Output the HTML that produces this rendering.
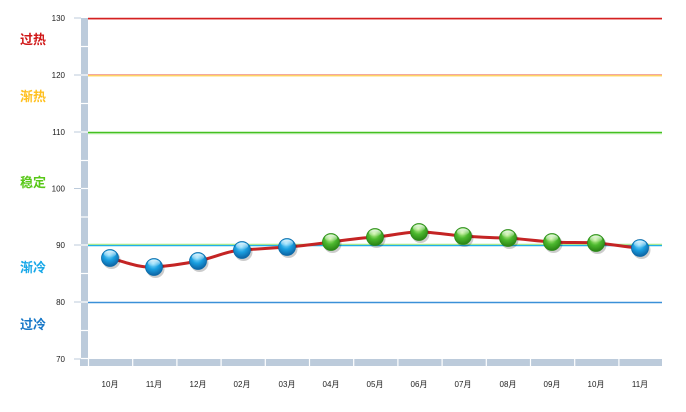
<!DOCTYPE html>
<html><head><meta charset="utf-8"><style>
html,body{margin:0;padding:0;background:#fff;}
svg{display:block;}
text{font-family:"Liberation Sans","Noto Sans CJK SC",sans-serif;}
</style></head><body>
<svg width="686" height="412" viewBox="0 0 686 412" xmlns="http://www.w3.org/2000/svg">
<defs>
<radialGradient id="gb" cx="0.45" cy="0.3" r="0.75">
<stop offset="0" stop-color="#8fe0ff"/><stop offset="0.45" stop-color="#1a9fe0"/><stop offset="1" stop-color="#0a5a9a"/>
</radialGradient>
<radialGradient id="gg" cx="0.45" cy="0.3" r="0.75">
<stop offset="0" stop-color="#c8f59a"/><stop offset="0.45" stop-color="#4cb82e"/><stop offset="1" stop-color="#247a10"/>
</radialGradient>
<linearGradient id="hl" x1="0" y1="0" x2="0" y2="1">
<stop offset="0" stop-color="#fff" stop-opacity="0.85"/><stop offset="1" stop-color="#fff" stop-opacity="0"/>
</linearGradient>
</defs>
<!-- left axis bar -->
<rect x="81" y="18" width="7" height="341" fill="#bccbdb"/>
<g stroke="#fff" stroke-width="1.2">
<line x1="81" y1="46.5" x2="88" y2="46.5"/><line x1="81" y1="103.5" x2="88" y2="103.5"/>
<line x1="81" y1="160.5" x2="88" y2="160.5"/><line x1="81" y1="188.5" x2="88" y2="188.5"/>
<line x1="81" y1="217" x2="88" y2="217"/><line x1="81" y1="273.5" x2="88" y2="273.5"/>
<line x1="81" y1="330.5" x2="88" y2="330.5"/><line x1="81" y1="75" x2="88" y2="75"/>
<line x1="81" y1="132" x2="88" y2="132"/><line x1="81" y1="245" x2="88" y2="245"/><line x1="81" y1="302" x2="88" y2="302"/>
</g>
<!-- bottom bar -->
<rect x="80" y="359" width="582" height="7" fill="#bccbdb"/>
<g stroke="#fff" stroke-width="1.2">
<line x1="88.5" y1="359" x2="88.5" y2="366"/><line x1="132.7" y1="359" x2="132.7" y2="366"/><line x1="176.9" y1="359" x2="176.9" y2="366"/><line x1="221.1" y1="359" x2="221.1" y2="366"/><line x1="265.3" y1="359" x2="265.3" y2="366"/><line x1="309.5" y1="359" x2="309.5" y2="366"/><line x1="353.7" y1="359" x2="353.7" y2="366"/><line x1="397.9" y1="359" x2="397.9" y2="366"/><line x1="442.1" y1="359" x2="442.1" y2="366"/><line x1="486.3" y1="359" x2="486.3" y2="366"/><line x1="530.5" y1="359" x2="530.5" y2="366"/><line x1="574.7" y1="359" x2="574.7" y2="366"/><line x1="618.9" y1="359" x2="618.9" y2="366"/>
<line x1="80" y1="358.5" x2="88" y2="358.5"/>
</g>
<!-- y ticks -->
<g stroke="#bccbdb" stroke-width="1">
<line x1="74" y1="18" x2="81" y2="18"/><line x1="74" y1="75" x2="81" y2="75"/><line x1="74" y1="132" x2="81" y2="132"/><line x1="74" y1="188.5" x2="81" y2="188.5"/><line x1="74" y1="245" x2="81" y2="245"/><line x1="74" y1="302" x2="81" y2="302"/><line x1="74" y1="359" x2="81" y2="359"/>
</g>
<g font-size="8" fill="#222" text-anchor="end">
<text x="65" y="21">130</text><text x="65" y="78">120</text><text x="65" y="135">110</text><text x="65" y="191.5">100</text><text x="65" y="248">90</text><text x="65" y="305">80</text><text x="65" y="362">70</text>
</g>
<!-- threshold lines -->
<line x1="88" y1="18.5" x2="662" y2="18.5" stroke="#d42020" stroke-width="1.5"/>
<line x1="88" y1="19.6" x2="662" y2="19.6" stroke="#f0a0a0" stroke-width="0.8"/>
<line x1="88" y1="74.6" x2="662" y2="74.6" stroke="#f2a8a0" stroke-width="1.2"/>
<line x1="88" y1="75.8" x2="662" y2="75.8" stroke="#ffd040" stroke-width="1.2"/>
<line x1="88" y1="132.5" x2="662" y2="132.5" stroke="#44c020" stroke-width="1.5"/>
<line x1="88" y1="133.8" x2="662" y2="133.8" stroke="#b0eaa0" stroke-width="1"/>
<line x1="88" y1="244.4" x2="662" y2="244.4" stroke="#a8e890" stroke-width="1.2"/>
<line x1="88" y1="245.6" x2="662" y2="245.6" stroke="#20b0e8" stroke-width="1.3"/>
<line x1="88" y1="302.5" x2="662" y2="302.5" stroke="#3a90d8" stroke-width="1.5"/>
<!-- zone labels -->
<g font-size="13" font-weight="bold">
<text x="20" y="44" fill="#d01818">过热</text>
<text x="20" y="101" fill="#ffc020">渐热</text>
<text x="20" y="187" fill="#58c818">稳定</text>
<text x="20" y="272" fill="#18a8e8">渐冷</text>
<text x="20" y="329" fill="#1878c8">过冷</text>
</g>
<!-- series line -->
<path d="M110,258 C125,262 139,268 154,267 C169,266 183,264 198,261 C213,258 227,251 242,250 C257,249 272,248 287,247 C302,246 316,244 331,242 C346,240 360,238 375,237 C390,236 404,232 419,232 C434,232 448,235 463,236 C478,237 493,238 508,238 C523,239 537,241 552,242 C567,243 581,242 596,243 C611,244 625,247 640,248" fill="none" stroke="#c42424" stroke-width="3"/>
<!-- points -->
<g>
<circle cx="111.5" cy="260" r="9" fill="#000" opacity="0.2"/>
<circle cx="155.5" cy="269" r="9" fill="#000" opacity="0.2"/>
<circle cx="199.5" cy="263" r="9" fill="#000" opacity="0.2"/>
<circle cx="243.5" cy="252" r="9" fill="#000" opacity="0.2"/>
<circle cx="288.5" cy="249" r="9" fill="#000" opacity="0.2"/>
<circle cx="332.5" cy="244" r="9" fill="#000" opacity="0.2"/>
<circle cx="376.5" cy="239" r="9" fill="#000" opacity="0.2"/>
<circle cx="420.5" cy="234" r="9" fill="#000" opacity="0.2"/>
<circle cx="464.5" cy="238" r="9" fill="#000" opacity="0.2"/>
<circle cx="509.5" cy="240" r="9" fill="#000" opacity="0.2"/>
<circle cx="553.5" cy="244" r="9" fill="#000" opacity="0.2"/>
<circle cx="597.5" cy="245" r="9" fill="#000" opacity="0.2"/>
<circle cx="641.5" cy="250" r="9" fill="#000" opacity="0.2"/>
</g>
<g stroke-width="0.8">
<circle cx="110" cy="258" r="8.5" fill="url(#gb)" stroke="#0a6aa8"/>
<circle cx="154" cy="267" r="8.5" fill="url(#gb)" stroke="#0a6aa8"/>
<circle cx="198" cy="261" r="8.5" fill="url(#gb)" stroke="#0a6aa8"/>
<circle cx="242" cy="250" r="8.5" fill="url(#gb)" stroke="#0a6aa8"/>
<circle cx="287" cy="247" r="8.5" fill="url(#gb)" stroke="#0a6aa8"/>
<circle cx="331" cy="242" r="8.5" fill="url(#gg)" stroke="#2a8a18"/>
<circle cx="375" cy="237" r="8.5" fill="url(#gg)" stroke="#2a8a18"/>
<circle cx="419" cy="232" r="8.5" fill="url(#gg)" stroke="#2a8a18"/>
<circle cx="463" cy="236" r="8.5" fill="url(#gg)" stroke="#2a8a18"/>
<circle cx="508" cy="238" r="8.5" fill="url(#gg)" stroke="#2a8a18"/>
<circle cx="552" cy="242" r="8.5" fill="url(#gg)" stroke="#2a8a18"/>
<circle cx="596" cy="243" r="8.5" fill="url(#gg)" stroke="#2a8a18"/>
<circle cx="640" cy="248" r="8.5" fill="url(#gb)" stroke="#0a6aa8"/>
</g>
<g fill="url(#hl)">
<ellipse cx="110" cy="254" rx="6" ry="3.5"/><ellipse cx="154" cy="263" rx="6" ry="3.5"/><ellipse cx="198" cy="257" rx="6" ry="3.5"/><ellipse cx="242" cy="246" rx="6" ry="3.5"/><ellipse cx="287" cy="243" rx="6" ry="3.5"/><ellipse cx="331" cy="238" rx="6" ry="3.5"/><ellipse cx="375" cy="233" rx="6" ry="3.5"/><ellipse cx="419" cy="228" rx="6" ry="3.5"/><ellipse cx="463" cy="232" rx="6" ry="3.5"/><ellipse cx="508" cy="234" rx="6" ry="3.5"/><ellipse cx="552" cy="238" rx="6" ry="3.5"/><ellipse cx="596" cy="239" rx="6" ry="3.5"/><ellipse cx="640" cy="244" rx="6" ry="3.5"/>
</g>
<!-- x labels -->
<g font-size="8" fill="#222" text-anchor="middle">
<text x="110" y="387">10月</text><text x="154" y="387">11月</text><text x="198" y="387">12月</text><text x="242" y="387">02月</text><text x="287" y="387">03月</text><text x="331" y="387">04月</text><text x="375" y="387">05月</text><text x="419" y="387">06月</text><text x="463" y="387">07月</text><text x="508" y="387">08月</text><text x="552" y="387">09月</text><text x="596" y="387">10月</text><text x="640" y="387">11月</text>
</g>
</svg>
</body></html>
